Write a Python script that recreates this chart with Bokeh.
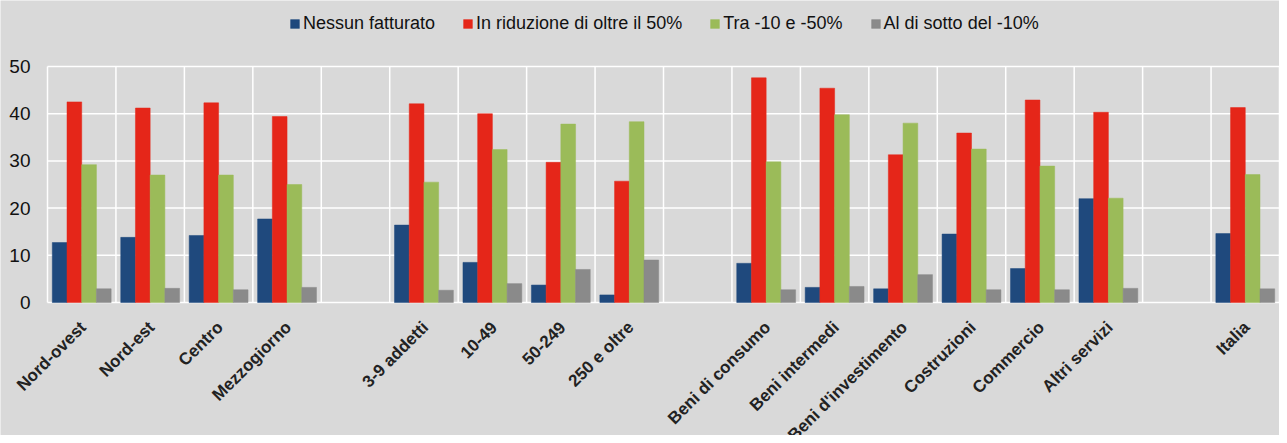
import math
from bokeh.plotting import figure
from bokeh.models import ColumnDataSource, Legend, LegendItem, Range1d
from bokeh.core.properties import value
from bokeh.transform import dodge
from bokeh.embed import file_html
from bokeh.resources import INLINE

NAN = float("nan")
categories = ["Nord-ovest", "Nord-est", "Centro", "Mezzogiorno", "",
              "3-9 addetti", "10-49", "50-249", "250 e oltre", "",
              "Beni di consumo", "Beni intermedi", "Beni d'investimento",
              "Costruzioni", "Commercio", "Altri servizi", "",
              "Italia"]
nessun = [12.7, 13.8, 14.2, 17.7, NAN, 16.4, 8.5, 3.7, 1.6, NAN,
          8.3, 3.2, 2.9, 14.5, 7.2, 22.0, NAN, 14.6]
oltre50 = [42.5, 41.2, 42.3, 39.4, NAN, 42.1, 40.0, 29.7, 25.7, NAN,
           47.6, 45.4, 31.3, 35.9, 42.9, 40.3, NAN, 41.3]
tra10_50 = [29.2, 27.0, 27.0, 25.0, NAN, 25.5, 32.4, 37.8, 38.3, NAN,
            29.8, 39.8, 38.0, 32.5, 28.9, 22.1, NAN, 27.1]
sotto10 = [2.9, 3.0, 2.7, 3.2, NAN, 2.6, 4.0, 7.0, 9.0, NAN,
           2.7, 3.4, 5.9, 2.7, 2.7, 3.0, NAN, 2.9]
series_names = ["Nessun fatturato", "In riduzione di oltre il 50%",
                "Tra -10 e -50%", "Al di sotto del -10%"]
y_ticks = [0, 10, 20, 30, 40, 50]

colors = ["#1f497d", "#e52619", "#9bbb59", "#8a8a8a"]
BG = "#d9d9d9"

W, H = 1279, 435
LEFT, TOP_PX, BOTTOM_PX = 47, 66, 302   # pixel column of x=0, rows of y=50 / y=0
n = len(categories)
ppu_y = (BOTTOM_PX - TOP_PX) / 50.0
ppu_x = (W - LEFT) / float(n)
y_lo = -(H - BOTTOM_PX) / ppu_y
y_hi = 50 + TOP_PX / ppu_y
x_lo = -LEFT / ppu_x

x = [i + 0.5 for i in range(n)]
lab_x = [xx + 1.5 / ppu_x for xx in x]
lab_y = [-22 / ppu_y] * n
src = ColumnDataSource(dict(x=x, s0=nessun, s1=oltre50, s2=tra10_50, s3=sotto10,
                            cat=categories, lx=lab_x, ly=lab_y))

p = figure(width=W, height=H, output_backend="svg", toolbar_location=None,
           x_range=Range1d(x_lo, n), y_range=Range1d(y_lo, y_hi),
           background_fill_color=BG, border_fill_color=BG,
           min_border=0)
p.outline_line_color = None
p.axis.visible = False
p.grid.visible = False

# horizontal gridlines and vertical slot separators (0..50 only)
p.segment(x0=[0] * len(y_ticks), x1=[n] * len(y_ticks), y0=y_ticks, y1=y_ticks,
          line_color="white", line_width=1.5, level="underlay")
bounds = list(range(n + 1))
p.segment(x0=bounds, x1=bounds, y0=[y_ticks[0]] * len(bounds),
          y1=[y_ticks[-1]] * len(bounds), line_color="white", line_width=1.5,
          level="underlay")

w = 0.215
offsets = [-1.5 * w, -0.5 * w, 0.5 * w, 1.5 * w]
items = []
for k in range(4):
    r = p.vbar(x=dodge("x", offsets[k], range=p.x_range), top="s%d" % k, width=w,
               bottom=0, source=src, fill_color=colors[k], line_color=colors[k],
               line_width=0.5)
    items.append(LegendItem(label=series_names[k], renderers=[r]))

# rotated category labels
p.text(x="lx", y="ly", text="cat", source=src, angle=math.pi / 4,
       text_align="right", text_baseline="middle",
       text_font=value("Liberation Sans"), text_font_style="bold",
       text_font_size="17px", text_color="#222222")

# y tick labels
p.text(x=[0] * len(y_ticks), y=y_ticks, text=[str(t) for t in y_ticks],
       x_offset=-17, text_align="right", text_baseline="middle",
       text_font=value("Liberation Sans"), text_font_size="19px",
       text_color="#111111")

legend = Legend(items=items, orientation="horizontal",
                location=(LEFT + 242, H - 34),
                background_fill_alpha=0, border_line_color=None,
                label_text_font="Liberation Sans", label_text_font_size="18px",
                label_text_color="#111111",
                glyph_width=11, glyph_height=11, label_standoff=3, spacing=27,
                padding=0, margin=0, label_height=20)
p.add_layout(legend, "center")

open("out.html", "w").write(file_html(p, INLINE))
